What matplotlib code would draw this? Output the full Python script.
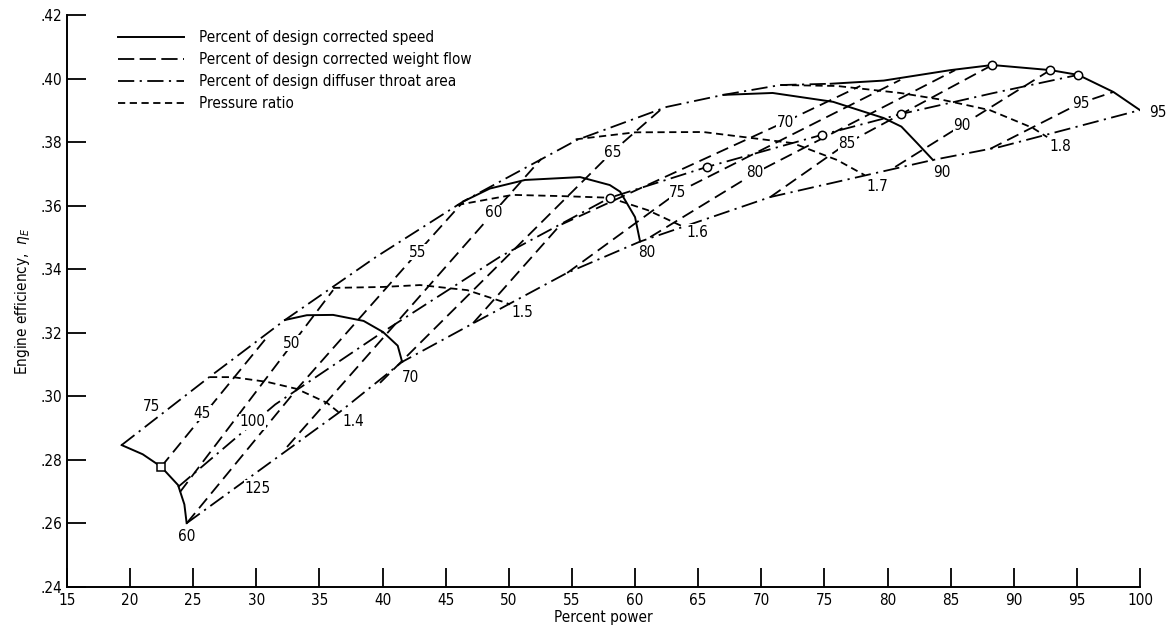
import matplotlib.pyplot as plt
from matplotlib.lines import Line2D

plt.rcParams['font.family'] = ['DejaVu Sans']
plt.rcParams['font.stretch'] = 'condensed'

# corrected speed lines (solid), percent of design
speed_60 = ([19.33, 21.0, 22.45, 23.8, 24.3, 24.48], [0.2847, 0.2818, 0.2779, 0.2721, 0.2660, 0.2601])
speed_70 = ([32.27, 34.0, 36.08, 38.5, 40.04, 41.2, 41.55], [0.3241, 0.3256, 0.3257, 0.3238, 0.3203, 0.3160, 0.3109])
speed_80 = ([46.38, 48.5, 51.29, 55.65, 58.0, 58.82, 60.0, 60.4], [0.3614, 0.3655, 0.3682, 0.3691, 0.3666, 0.3645, 0.3565, 0.3488])
speed_90 = ([67.0, 70.9, 75.7, 79.7, 81.1, 82.35, 83.6], [0.3950, 0.3956, 0.3928, 0.3877, 0.3850, 0.3798, 0.3745])
speed_95 = ([75.5, 79.7, 85.0, 88.3, 92.9, 95.1, 97.9, 100.0], [0.3985, 0.3995, 0.4028, 0.4044, 0.4028, 0.4013, 0.3959, 0.3902])
speed_labels = [("60", 24.5, 0.2560), ("70", 42.2, 0.3061), ("80", 60.96, 0.3452), ("90", 84.3, 0.3704), ("95", 101.4, 0.3893)]

# diffuser throat area lines (dash-dot), percent of design
area_75 = ([19.33, 26.3, 32.27, 39.5, 46.38, 55.4, 62.5, 67.0, 71.5, 75.5],
           [0.2847, 0.3062, 0.3241, 0.3440, 0.3614, 0.3808, 0.3912, 0.3950, 0.3981, 0.3985])
area_100 = ([23.8, 31.5, 39.9, 49.3, 58.0, 65.7, 74.8, 81.1, 88.3, 95.1],
            [0.2715, 0.2975, 0.3200, 0.3440, 0.3626, 0.3723, 0.3824, 0.3890, 0.3955, 0.4013])
area_125 = ([24.48, 36.6, 41.55, 47.2, 54.6, 60.4, 70.7, 83.6, 88.9, 100.0],
            [0.2601, 0.2951, 0.3109, 0.3231, 0.3389, 0.3488, 0.3628, 0.3745, 0.3786, 0.3902])
area_labels = [("75", 21.7, 0.2970), ("100", 29.7, 0.2920), ("125", 30.1, 0.2710)]

# corrected weight flow lines (long dash), percent of design
flow_45 = ([22.45, 30.85], [0.2778, 0.3187])
flow_50 = ([23.95, 36.08], [0.2699, 0.3335])
flow_55 = ([24.51, 33.23, 42.81, 46.38], [0.2602, 0.3024, 0.3455, 0.3613])
flow_60 = ([32.43, 48.76, 52.56], [0.2841, 0.3578, 0.3748])
flow_65 = ([39.80, 58.19, 61.99], [0.3043, 0.3770, 0.3902])
flow_70 = ([47.17, 54.07, 71.89, 77.84], [0.3231, 0.3540, 0.3865, 0.3978])
flow_75 = ([54.62, 63.42, 81.01], [0.3389, 0.3644, 0.3997])
flow_80 = ([61.20, 69.52, 85.36], [0.3502, 0.3704, 0.4028])
flow_85 = ([70.71, 76.81, 88.30], [0.3628, 0.3798, 0.4044])
flow_90 = ([80.61, 85.92, 92.89], [0.3723, 0.3855, 0.4028])
flow_95 = ([88.14, 95.27, 97.88], [0.3780, 0.3924, 0.3959])
flows = [flow_45, flow_50, flow_55, flow_60, flow_65, flow_70, flow_75, flow_80, flow_85, flow_90, flow_95]
flow_labels = [("45", 25.7, 0.2948), ("50", 32.8, 0.3168), ("55", 42.8, 0.3455), ("60", 48.8, 0.3578),
               ("65", 58.2, 0.3770), ("70", 71.9, 0.3864), ("75", 63.4, 0.3644), ("80", 69.5, 0.3704),
               ("85", 76.8, 0.3798), ("90", 85.9, 0.3855), ("95", 95.3, 0.3924)]

# pressure ratio lines (short dash)
pr_14 = ([26.33, 28.15, 30.85, 33.2, 35.6, 36.5], [0.3061, 0.3061, 0.3046, 0.3024, 0.2980, 0.2951])
pr_15 = ([36.08, 40.04, 42.97, 46.7, 49.55, 50.1], [0.3342, 0.3345, 0.3351, 0.3335, 0.3298, 0.3290])
pr_16 = ([45.9, 50.3, 54.3, 58.0, 61.0, 63.8], [0.3603, 0.3635, 0.3631, 0.3626, 0.3587, 0.3535])
pr_17 = ([55.3, 60.0, 65.4, 72.5, 76.0, 78.2], [0.3810, 0.3832, 0.3833, 0.3798, 0.3745, 0.3697])
pr_18 = ([71.5, 76.0, 81.0, 84.4, 88.1, 91.5, 92.65], [0.3981, 0.3978, 0.3956, 0.3934, 0.3902, 0.3846, 0.3817])
pr_labels = [("1.4", 37.7, 0.2920), ("1.5", 51.1, 0.3263), ("1.6", 64.9, 0.3518), ("1.7", 79.2, 0.3660), ("1.8", 93.7, 0.3786)]

# test points
open_circle_x = [58.0, 65.7, 74.8, 81.1, 88.3, 92.9, 95.1]
open_circle_y = [0.3626, 0.3723, 0.3824, 0.3890, 0.4044, 0.4028, 0.4013]
square_x = [22.45]
square_y = [0.2779]

long_dash = (7, 3.5)
dash_dot = (9, 3, 1.2, 3)
short_dash = (4, 2.5)

fig = plt.figure(figsize=(11.71, 6.35), dpi=100)
ax = fig.add_axes([0.0572, 0.0756, 0.9163, 0.9])

for xs, ys in [speed_60, speed_70, speed_80, speed_90, speed_95]:
    ax.plot(xs, ys, color='black', lw=1.4)
for xs, ys in [area_75, area_100, area_125]:
    ax.plot(xs, ys, color='black', lw=1.3, dashes=dash_dot)
for xs, ys in flows:
    ax.plot(xs, ys, color='black', lw=1.3, dashes=long_dash)
for xs, ys in [pr_14, pr_15, pr_16, pr_17, pr_18]:
    ax.plot(xs, ys, color='black', lw=1.3, dashes=short_dash)

ax.plot(open_circle_x, open_circle_y, 'o', ms=6, mfc='white', mec='black', mew=1.1, zorder=5)
ax.plot(square_x, square_y, 's', ms=6, mfc='white', mec='black', mew=1.1, zorder=5)

for group in [speed_labels, area_labels, flow_labels, pr_labels]:
    for txt, x, y in group:
        ax.text(x, y, txt, fontsize=11, ha='center', va='center', zorder=6,
                bbox=dict(facecolor='white', edgecolor='none', pad=0.5))

ax.set_xlim(15, 100)
ax.set_ylim(0.24, 0.42)
ax.set_xticks(range(15, 101, 5))
ax.set_yticks([0.24, 0.26, 0.28, 0.30, 0.32, 0.34, 0.36, 0.38, 0.40, 0.42])
ax.set_yticklabels(['.24', '.26', '.28', '.30', '.32', '.34', '.36', '.38', '.40', '.42'])
ax.tick_params(axis='both', direction='in', length=14, width=1.3, labelsize=11)
ax.tick_params(axis='x', pad=4)
ax.spines['top'].set_visible(False)
ax.spines['right'].set_visible(False)
ax.spines['left'].set_linewidth(1.4)
ax.spines['bottom'].set_linewidth(1.4)
ax.set_xlabel('Percent power', fontsize=11, labelpad=2)
ax.set_ylabel(r'Engine efficiency,  $\eta_E$', fontsize=11, labelpad=6)

handles = [Line2D([], [], color='black', lw=1.4),
           Line2D([], [], color='black', lw=1.3, dashes=(9, 3)),
           Line2D([], [], color='black', lw=1.3, dashes=dash_dot),
           Line2D([], [], color='black', lw=1.3, dashes=short_dash)]
names = ['Percent of design corrected speed', 'Percent of design corrected weight flow',
         'Percent of design diffuser throat area', 'Pressure ratio']
ax.legend(handles, names, loc='upper left', bbox_to_anchor=(0.035, 0.998), frameon=False,
          fontsize=11, handlelength=4.3, handletextpad=1.0, labelspacing=0.45)

fig.savefig('out.png', dpi=100)
